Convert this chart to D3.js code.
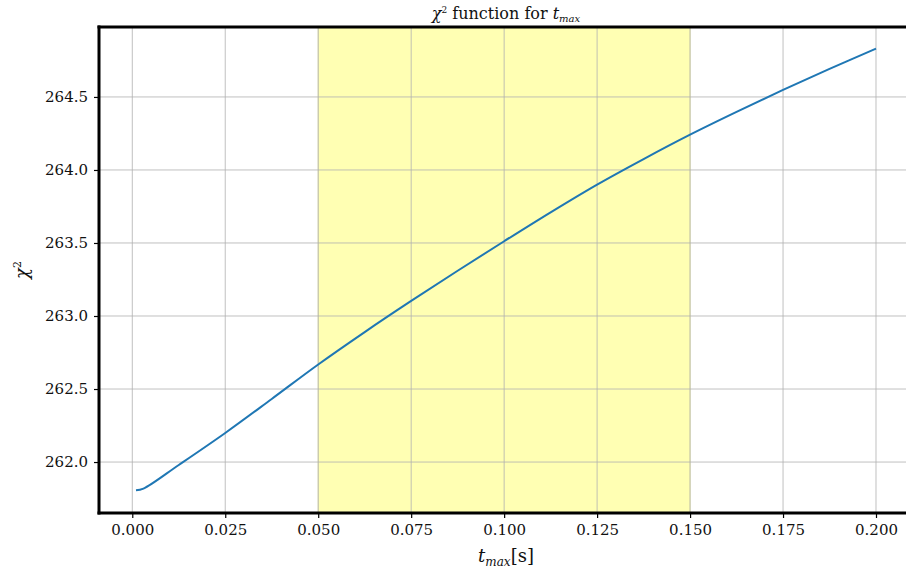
<!DOCTYPE html>
<html><head><meta charset="utf-8">
<script src="https://cdn.jsdelivr.net/npm/d3@7"></script>
<style>body{margin:0;background:#fff;} svg{display:block;}
.tick text{font-family:'DejaVu Serif';font-size:15px;fill:#111;}
.lab{font-family:'DejaVu Serif';fill:#111;}
</style>
</head><body>
<svg id="c" width="906" height="570"></svg>
<script>
const tmax = [0.001, 0.003, 0.0125, 0.025, 0.0375, 0.05, 0.0625, 0.075, 0.0875, 0.1, 0.1125, 0.125, 0.1375, 0.15, 0.1625, 0.175, 0.1875, 0.2];
const chi2 = [261.806, 261.818, 261.98, 262.199, 262.432, 262.668, 262.89, 263.103, 263.31, 263.512, 263.71, 263.9, 264.075, 264.242, 264.398, 264.548, 264.692, 264.831];
const xTicks = [0.000, 0.025, 0.050, 0.075, 0.100, 0.125, 0.150, 0.175, 0.200];
const yTicks = [262.0, 262.5, 263.0, 263.5, 264.0, 264.5];
const span = [0.05, 0.15];

const svg = d3.select("#c");
const L = 99, R = 913, T = 27, B = 513;
const x = d3.scaleLinear().domain([-0.00895, 0.20995]).range([L, R]);
const y = d3.scaleLinear().domain([261.651, 264.979]).range([B, T]);

svg.append("defs").append("clipPath").attr("id","clip")
  .append("rect").attr("x",L).attr("y",T).attr("width",R-L).attr("height",B-T);

const g = svg.append("g").attr("clip-path","url(#clip)");
g.append("rect").attr("x", x(span[0])).attr("y", T).attr("width", x(span[1]) - x(span[0])).attr("height", B - T)
  .attr("fill", "rgb(255,255,179)");
g.append("line").attr("x1", x(span[0])).attr("x2", x(span[0])).attr("y1", T).attr("y2", B).attr("stroke","rgb(235,235,160)").attr("stroke-width",1);
g.append("line").attr("x1", x(span[1])).attr("x2", x(span[1])).attr("y1", T).attr("y2", B).attr("stroke","rgb(235,235,160)").attr("stroke-width",1);

// grid
g.selectAll(".gx").data(xTicks).enter().append("line")
  .attr("x1", d => x(d)).attr("x2", d => x(d)).attr("y1", T).attr("y2", B)
  .attr("stroke", "#b0b0b0").attr("stroke-opacity", 0.8).attr("stroke-width", 1);
g.selectAll(".gy").data(yTicks).enter().append("line")
  .attr("y1", d => y(d)).attr("y2", d => y(d)).attr("x1", L).attr("x2", R)
  .attr("stroke", "#b0b0b0").attr("stroke-opacity", 0.8).attr("stroke-width", 1);

// line
const line = d3.line().x((d,i) => x(tmax[i])).y(d => y(d)).curve(d3.curveCatmullRom.alpha(0.5));
g.append("path").datum(chi2).attr("d", line).attr("fill","none")
  .attr("stroke","#1f77b4").attr("stroke-width",2);

// axes
const xAxis = d3.axisBottom(x).tickValues(xTicks).tickFormat(d3.format(".3f")).tickSize(5).tickPadding(6);
const yAxis = d3.axisLeft(y).tickValues(yTicks).tickFormat(d3.format(".1f")).tickSize(5).tickPadding(6);
const gx = svg.append("g").attr("transform", `translate(0,${B})`).call(xAxis);
const gy = svg.append("g").attr("transform", `translate(${L},0)`).call(yAxis);
[gx, gy].forEach(a => {
  a.attr("font-family", null).attr("font-size", null);
  a.select(".domain").remove();
  a.selectAll("line").attr("stroke","#000").attr("stroke-width",1.2);
});

// spines
svg.append("line").attr("x1",L).attr("x2",L).attr("y1",T-1.5).attr("y2",B+1.5).attr("stroke","#000").attr("stroke-width",3);
svg.append("line").attr("x1",L-1.5).attr("x2",R).attr("y1",T).attr("y2",T).attr("stroke","#000").attr("stroke-width",3);
svg.append("line").attr("x1",L-1.5).attr("x2",R).attr("y1",B).attr("y2",B).attr("stroke","#000").attr("stroke-width",3);

// title
const title = svg.append("text").attr("class","lab").attr("x", 506).attr("y", 19).attr("text-anchor","middle")
  .style("font-size","16px");
title.append("tspan").style("font-style","italic").text("χ");
title.append("tspan").attr("dy",-6).style("font-size","9px").text("2");
title.append("tspan").attr("dy",6).text(" function for ");
title.append("tspan").style("font-style","italic").text("t");
title.append("tspan").attr("dy",3).style("font-size","10px").style("font-style","italic").text("max");

// x label
const xl = svg.append("text").attr("class","lab").attr("x", 506).attr("y", 562).attr("text-anchor","middle")
  .style("font-size","18px");
xl.append("tspan").style("font-style","italic").text("t");
xl.append("tspan").attr("dy",4).style("font-size","12px").style("font-style","italic").text("max");
xl.append("tspan").attr("dy",-4).text("[s]");

// y label
const yl = svg.append("text").attr("class","lab").attr("transform","translate(28,270) rotate(-90)").attr("text-anchor","middle")
  .style("font-size","18px");
yl.append("tspan").style("font-style","italic").text("χ");
yl.append("tspan").attr("dy",-7).style("font-size","11px").text("2");
</script>
</body></html>
